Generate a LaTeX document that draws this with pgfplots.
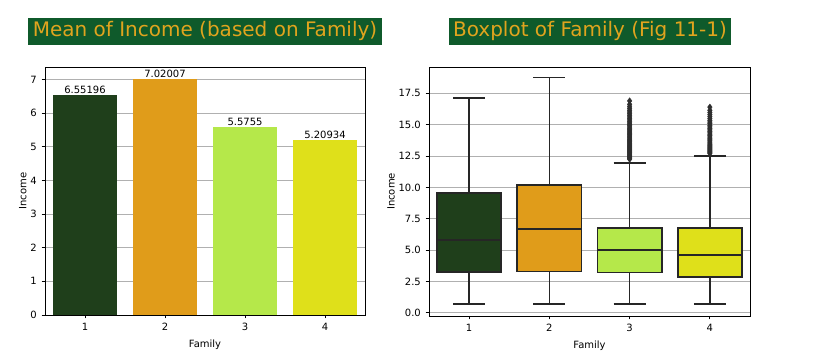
\documentclass[border=0pt]{standalone}
\usepackage{pgfplots}
\pgfplotsset{compat=1.18}
\usepgfplotslibrary{statistics}
\usepackage{fontspec}
\setmainfont{DejaVu Sans}
\definecolor{c1}{HTML}{1F3F1B}
\definecolor{c2}{HTML}{E09C1A}
\definecolor{c3}{HTML}{B5E84A}
\definecolor{c4}{HTML}{DFE01A}
\definecolor{titlebg}{HTML}{0F5A2B}
\definecolor{titlefg}{HTML}{E0A41E}
\definecolor{gridgray}{HTML}{B0B0B0}
\definecolor{boxgray}{HTML}{262626}
\definecolor{outgray}{HTML}{2E2E2E}
\pgfplotsset{mystyle/.style={
  scale only axis, anchor=south west,
  axis line style={line width=0.6pt, black},
  tick style={line width=0.6pt, black},
  major tick length=2.6pt, tick align=outside,
  xtick pos=bottom, ytick pos=left,
  ymajorgrids, grid style={line width=0.6pt, color=gridgray},
  tick label style={font=\fontsize{7.5}{9}\selectfont},
  label style={font=\fontsize{7.5}{9}\selectfont},
  ylabel style={yshift=-4pt},
  /pgf/number format/assume math mode=true,
  xmin=0.5, xmax=4.5, xtick={1,2,3,4},
  xlabel={Family}, ylabel={Income},
}}
\pgfplotsset{bx/.style={draw=boxgray, line width=1.2pt,
  boxplot/every box/.style={draw=boxgray, fill=#1, line width=1.2pt},
  boxplot/every whisker/.style={draw=boxgray, line width=1.2pt},
  boxplot/every median/.style={draw=boxgray, line width=1.4pt}}}
\tikzset{ttl/.style={fill=titlebg, text=titlefg, font=\fontsize{15}{18}\selectfont,
  inner xsep=3.4pt, inner ysep=2.8pt, text height=11.4pt, text depth=3.6pt, anchor=center}}
\begin{document}
\begin{tikzpicture}
\path[use as bounding box] (0,0) rectangle (616.5pt,267pt);
\node[ttl] at (153.75pt,243.5pt) {Mean of Income (based on Family)};
\node[ttl] at (442.5pt,243.5pt) {Boxplot of Family (Fig 11-1)};
\begin{axis}[mystyle, at={(33.75pt,30.75pt)}, width=240pt, height=186pt,
  ymin=0, ymax=7.371, ytick={0,1,2,3,4,5,6,7},
  every node near coord/.append style={font=\fontsize{7.5}{9}\selectfont, inner sep=0.8pt, anchor=south, text=black},
  ]
\addplot[ybar, bar width=0.8, bar shift=0pt, fill=c1, draw=none, nodes near coords, point meta=explicit symbolic] coordinates {(1,6.55196) [6.55196]};
\addplot[ybar, bar width=0.8, bar shift=0pt, fill=c2, draw=none, nodes near coords, point meta=explicit symbolic] coordinates {(2,7.02007) [7.02007]};
\addplot[ybar, bar width=0.8, bar shift=0pt, fill=c3, draw=none, nodes near coords, point meta=explicit symbolic] coordinates {(3,5.5755) [5.5755]};
\addplot[ybar, bar width=0.8, bar shift=0pt, fill=c4, draw=none, nodes near coords, point meta=explicit symbolic] coordinates {(4,5.20934) [5.20934]};
\end{axis}
\begin{axis}[mystyle, at={(321.75pt,30pt)}, width=240.75pt, height=186.75pt,
  ymin=-0.25, ymax=19.6, ytick={0,2.5,5,7.5,10,12.5,15,17.5},
  yticklabel style={/pgf/number format/.cd, fixed, fixed zerofill, precision=1},
  boxplot/draw direction=y,
  boxplot/box extend=0.8, boxplot/whisker extend=0.4,
  ]
\addplot[bx=c1,
  boxplot prepared={draw position=1, median=5.78, upper quartile=9.56, lower quartile=3.25, upper whisker=17.15, lower whisker=0.69}] coordinates {};
\addplot[bx=c2,
  boxplot prepared={draw position=2, median=6.68, upper quartile=10.2, lower quartile=3.3, upper whisker=18.75, lower whisker=0.69}] coordinates {};
\addplot[bx=c3, mark=diamond*, mark size=2.3pt, mark options={solid, fill=outgray, draw=outgray, line width=0.3pt},
  boxplot prepared={draw position=3, median=4.98, upper quartile=6.76, lower quartile=3.22, upper whisker=11.96, lower whisker=0.69}]
  table[row sep=\\, y index=0] {data\\ 12.25\\ 12.31\\ 12.38\\ 12.44\\ 12.52\\ 12.58\\ 12.66\\ 12.73\\ 12.8\\ 12.88\\ 12.95\\ 13.03\\ 13.1\\ 13.18\\ 13.26\\ 13.33\\ 13.42\\ 13.5\\ 13.58\\ 13.67\\ 13.75\\ 13.84\\ 13.93\\ 14.02\\ 14.11\\ 14.2\\ 14.3\\ 14.4\\ 14.5\\ 14.6\\ 14.7\\ 14.81\\ 14.92\\ 15.03\\ 15.14\\ 15.26\\ 15.38\\ 15.5\\ 15.62\\ 15.75\\ 15.88\\ 16.01\\ 16.15\\ 16.3\\ 16.45\\ 16.62\\ 16.9\\};
\addplot[bx=c4, mark=diamond*, mark size=2.3pt, mark options={solid, fill=outgray, draw=outgray, line width=0.3pt},
  boxplot prepared={draw position=4, median=4.64, upper quartile=6.76, lower quartile=2.85, upper whisker=12.49, lower whisker=0.69}]
  table[row sep=\\, y index=0] {data\\ 12.7\\ 12.78\\ 12.85\\ 12.93\\ 13.01\\ 13.09\\ 13.17\\ 13.26\\ 13.35\\ 13.44\\ 13.53\\ 13.62\\ 13.72\\ 13.82\\ 13.92\\ 14.02\\ 14.13\\ 14.24\\ 14.35\\ 14.46\\ 14.58\\ 14.7\\ 14.82\\ 14.95\\ 15.08\\ 15.21\\ 15.35\\ 15.5\\ 15.65\\ 15.81\\ 15.98\\ 16.15\\ 16.4\\};
\end{axis}
\end{tikzpicture}
\end{document}
